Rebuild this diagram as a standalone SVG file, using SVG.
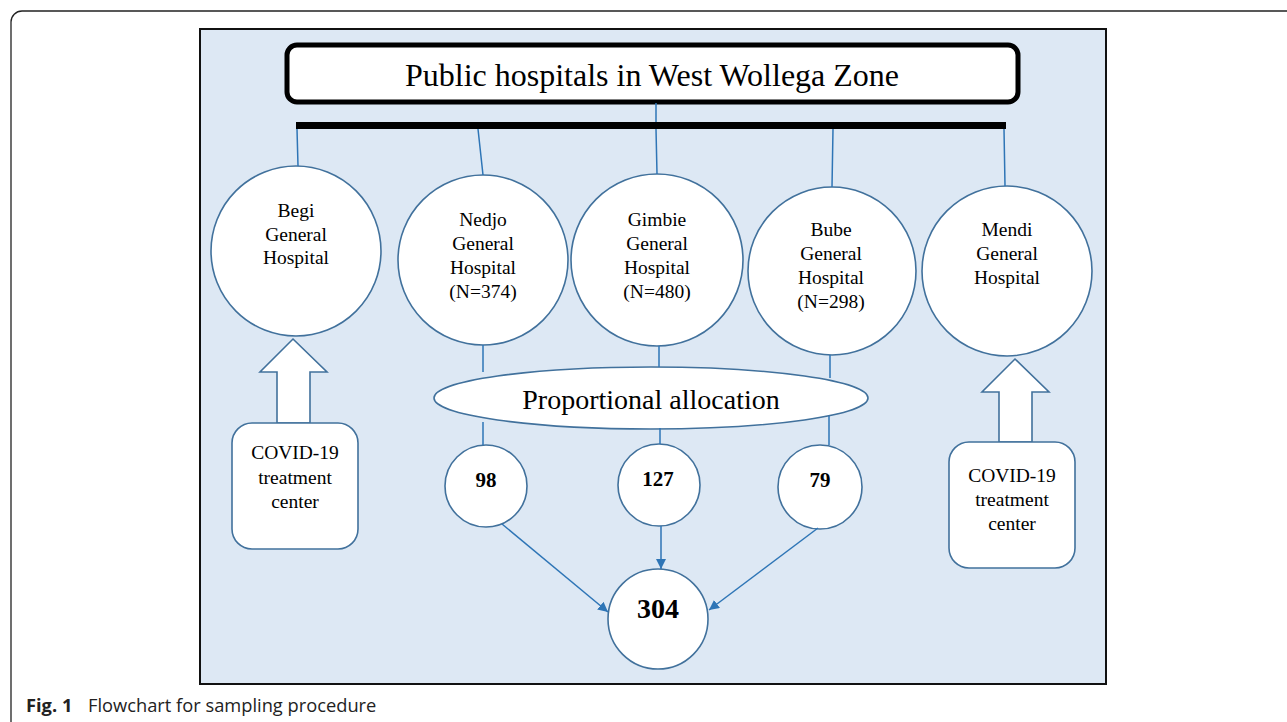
<svg xmlns="http://www.w3.org/2000/svg" width="1287" height="722" viewBox="0 0 1287 722">
<defs>
<style>
.node{fill:#fff;stroke:#41719c;stroke-width:1.6}
.t{font-family:"Liberation Serif",serif;font-size:19.5px;fill:#000;text-anchor:middle}
.b{font-weight:bold;font-size:21px}
.ln{stroke:#2e75b6;stroke-width:1.5;fill:none}
</style>
<marker id="ah" viewBox="0 0 10 10" refX="10" refY="5" markerWidth="10" markerHeight="10" markerUnits="userSpaceOnUse" orient="auto"><path d="M0,0 L10,5 L0,10 z" fill="#2e75b6"/></marker>
</defs>
<rect width="1287" height="722" fill="#fff"/>
<path d="M11,722 V22 A11,11 0 0 1 22,11 H1287" fill="none" stroke="#222" stroke-width="1.3"/>
<rect x="200" y="29" width="906" height="655" fill="#dde8f4" stroke="#111" stroke-width="2"/>
<g id="title">
<rect x="287" y="45" width="731" height="57" rx="10" fill="#fff" stroke="#000" stroke-width="5"/>
<text x="652" y="86" class="t" style="font-size:32px">Public hospitals in West Wollega Zone</text>
</g>
<g id="begi"><circle class="node" cx="296" cy="251" r="85"/><text class="t" x="296" y="217">Begi</text><text class="t" x="296" y="241">General</text><text class="t" x="296" y="264">Hospital</text></g>
<g id="nedjo"><circle class="node" cx="483" cy="260" r="85"/><text class="t" x="483" y="226">Nedjo</text><text class="t" x="483" y="250">General</text><text class="t" x="483" y="274">Hospital</text><text class="t" x="483" y="298">(N=374)</text></g>
<g id="gimbie"><circle class="node" cx="657" cy="260" r="86"/><text class="t" x="657" y="226">Gimbie</text><text class="t" x="657" y="250">General</text><text class="t" x="657" y="274">Hospital</text><text class="t" x="657" y="298">(N=480)</text></g>
<g id="bube"><circle class="node" cx="832" cy="271" r="84"/><text class="t" x="831" y="236">Bube</text><text class="t" x="831" y="260">General</text><text class="t" x="831" y="284">Hospital</text><text class="t" x="831" y="308">(N=298)</text></g>
<g id="mendi"><circle class="node" cx="1007" cy="271" r="85"/><text class="t" x="1007" y="236">Mendi</text><text class="t" x="1007" y="260">General</text><text class="t" x="1007" y="284">Hospital</text></g>
<g id="allocation"><ellipse class="node" cx="651" cy="398" rx="217" ry="31"/><text class="t" x="651" y="409" style="font-size:28px">Proportional allocation</text></g>
<g id="n98"><circle class="node" cx="486" cy="486" r="41"/><text class="t b" x="486" y="487">98</text></g>
<g id="n127"><circle class="node" cx="659" cy="485" r="41"/><text class="t b" x="658" y="486">127</text></g>
<g id="n79"><circle class="node" cx="820" cy="487" r="42"/><text class="t b" x="820" y="487">79</text></g>
<g id="n304"><circle class="node" cx="658" cy="619" r="50"/><text class="t b" x="658" y="618" style="font-size:28px">304</text></g>
<g id="arrowLeft"><path class="node" d="M293,339 L327,372 L310,372 L310,423 L277,423 L277,372 L260,372 Z"/></g>
<g id="covidLeft"><rect class="node" x="232" y="423" width="126" height="126" rx="20"/><text class="t" x="295" y="459">COVID-19</text><text class="t" x="295" y="484">treatment</text><text class="t" x="295" y="508">center</text></g>
<g id="arrowRight"><path class="node" d="M1015,359 L1049,392 L1032,392 L1032,442 L999,442 L999,392 L982,392 Z"/></g>
<g id="covidRight"><rect class="node" x="949" y="442" width="126" height="126" rx="20"/><text class="t" x="1012" y="482">COVID-19</text><text class="t" x="1012" y="506">treatment</text><text class="t" x="1012" y="530">center</text></g>
<g id="connectors">
<rect x="296" y="122" width="710" height="7" fill="#000"/>
<path class="ln" d="M656,103 V122 M297,129 L298,166 M478,129 L483,175 M656,129 L657,174 M833,129 L832,187 M1004,129 L1005,186"/>
<path class="ln" d="M483,345 V372 M483,422 V445 M659,346 V367 M660,428 V444 M830,355 V378 M829,416 V445"/>
<path class="ln" d="M502,524 L608,612" marker-end="url(#ah)"/>
<path class="ln" d="M661,526 V569" marker-end="url(#ah)"/>
<path class="ln" d="M818,528 L709,610" marker-end="url(#ah)"/>
</g>
<text x="26" y="712" style="font-family:'Open Sans',sans-serif;font-size:18.3px;fill:#222"><tspan font-weight="bold">Fig. 1</tspan><tspan x="88">Flowchart for sampling procedure</tspan></text>
</svg>
